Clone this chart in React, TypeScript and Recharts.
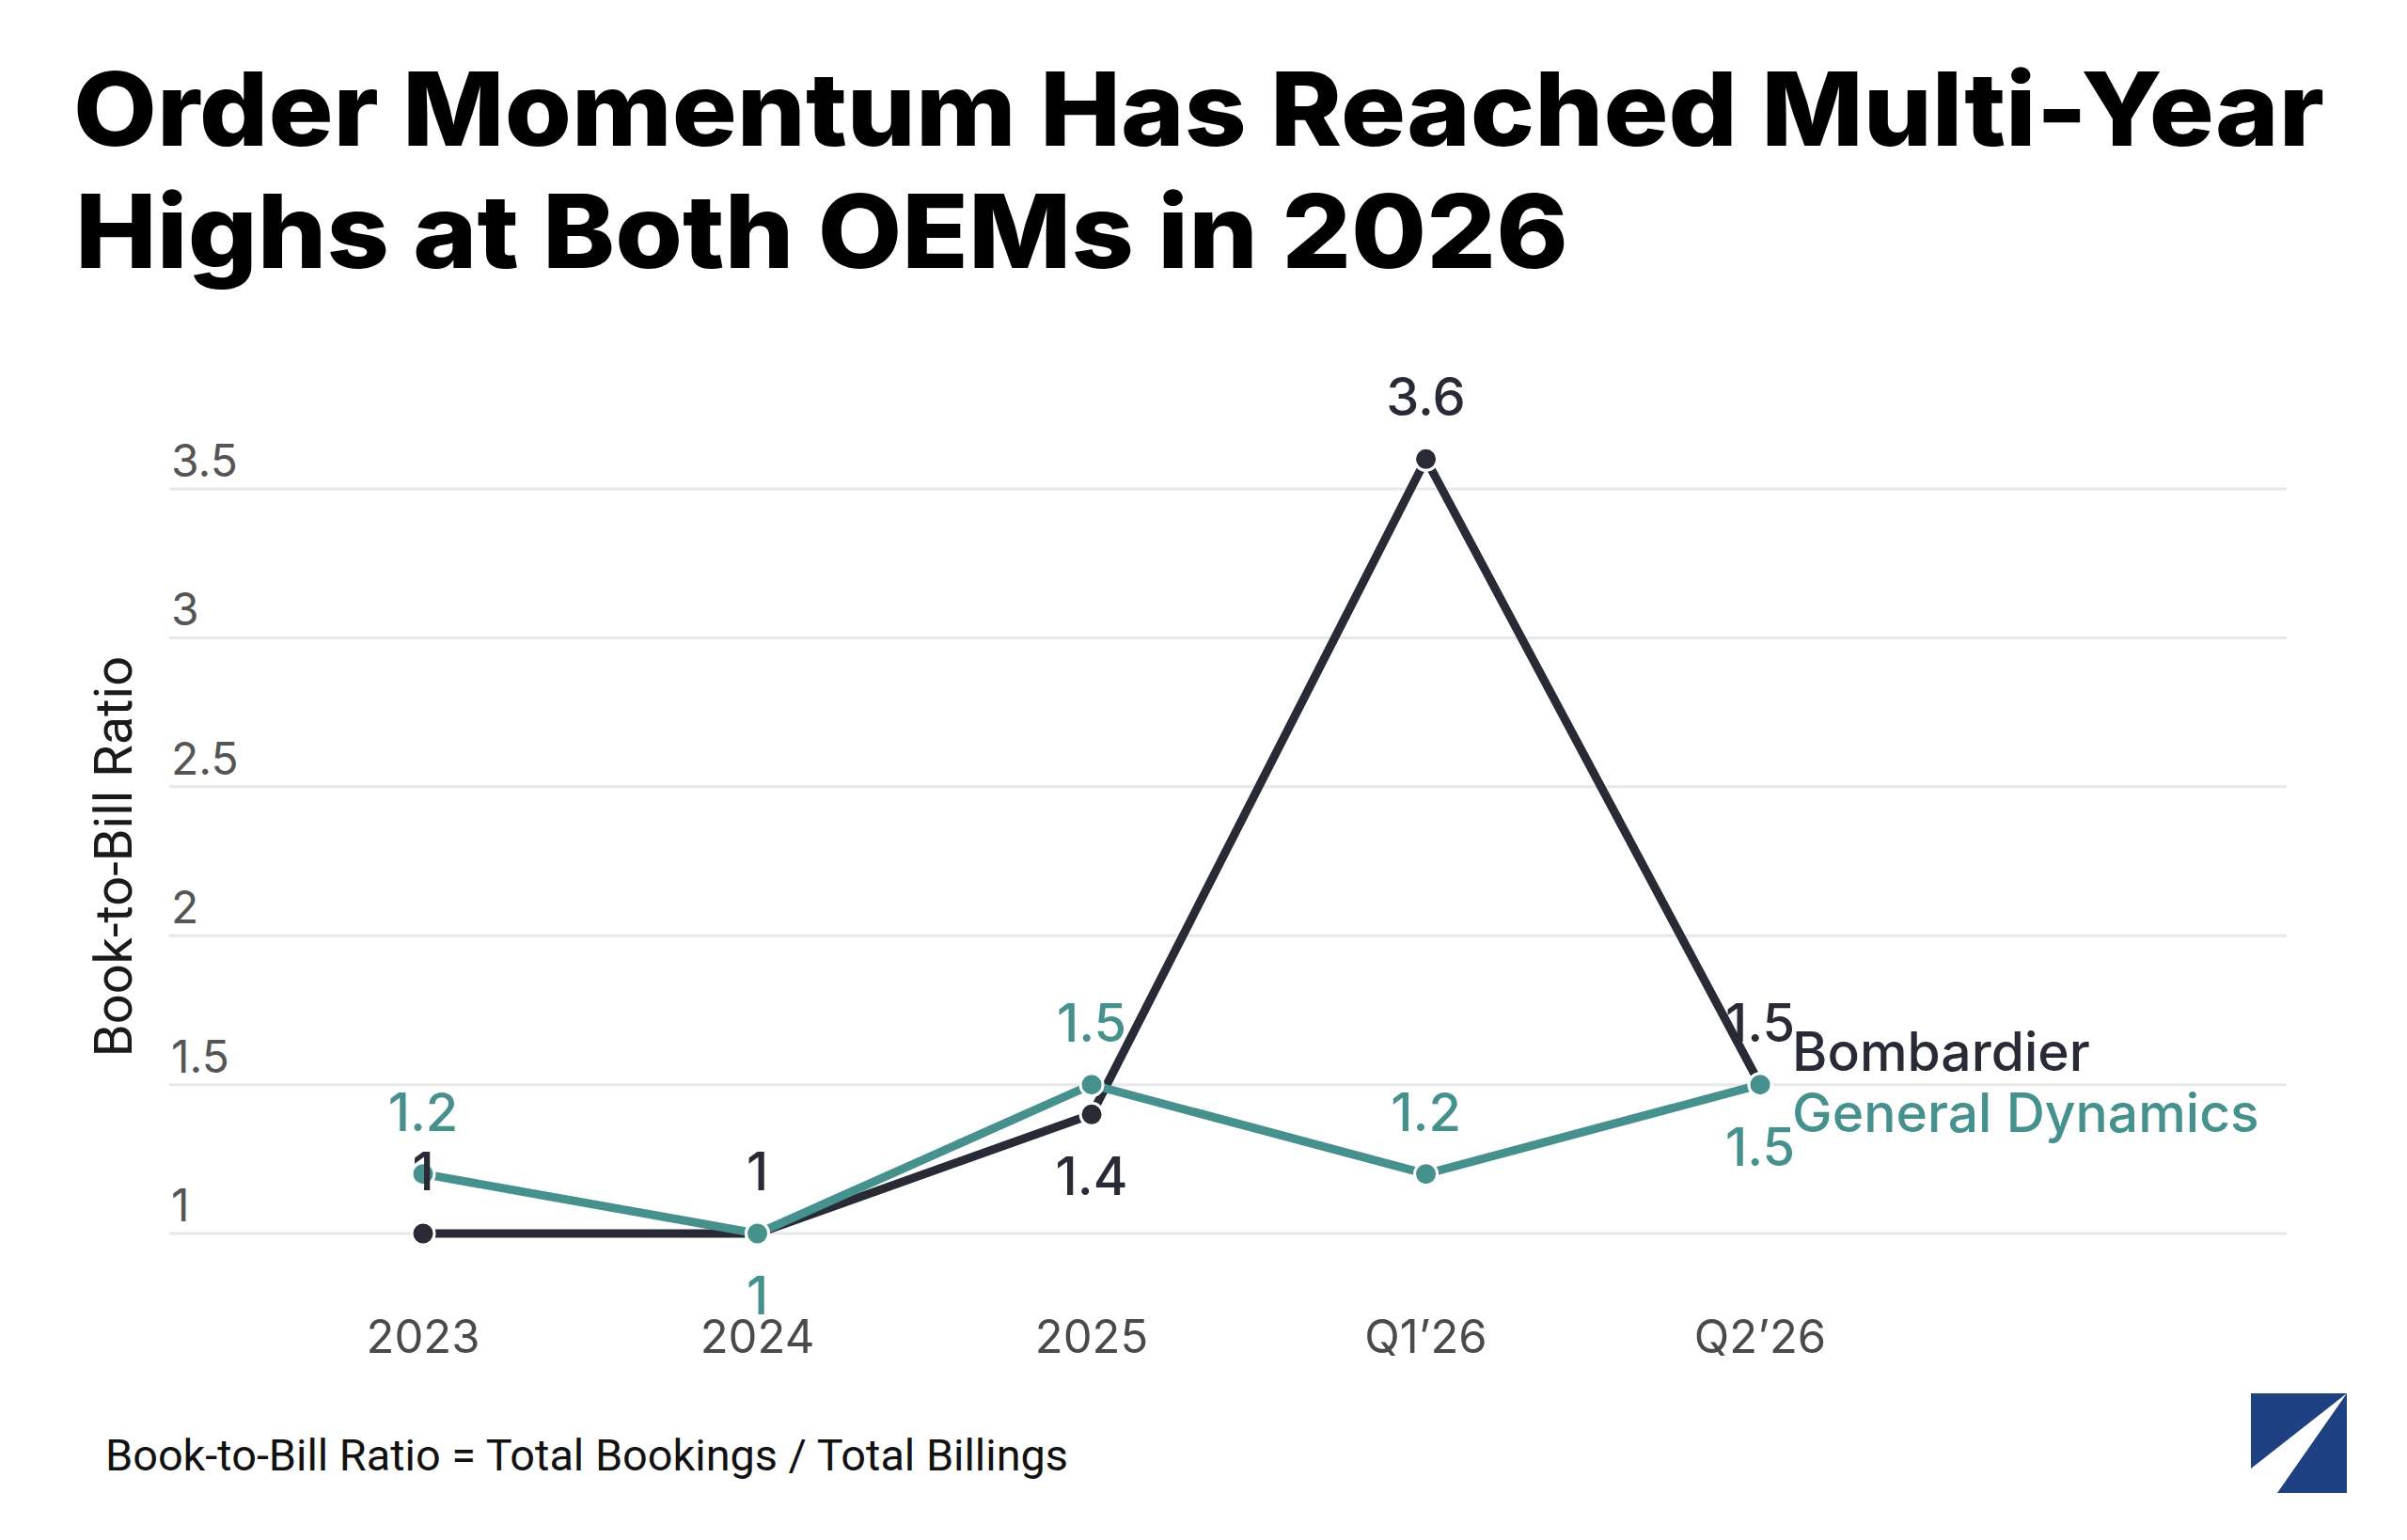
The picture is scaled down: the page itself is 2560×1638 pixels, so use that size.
import { LineChart, Line, XAxis, YAxis, CartesianGrid, LabelList } from "recharts";

const periods = ["2023", "2024", "2025", "Q1’26", "Q2’26"];
const bombardier = [1, 1, 1.4, 3.6, 1.5];
const generalDynamics = [1.2, 1, 1.5, 1.2, 1.5];
const yTicks = [1, 1.5, 2, 2.5, 3, 3.5];
const yDomain = [0.8, 3.8];

// where each value label sits relative to its point
const bombardierLabelSide = ["top", "top", "bottom", "top", "top"];
const gdLabelSide = ["top", "bottom", "top", "top", "bottom"];

const DARK = "#282a36";
const TEAL = "#46918e";
const W = 2560;
const H = 1638;

const rows = periods.map((period, i) => ({
  idx: i,
  period,
  bombardier: bombardier[i],
  gd: generalDynamics[i],
}));

function XTick({ x, y, payload }: any) {
  return (
    <text x={Number(x)} y={Number(y) + 64} textAnchor="middle" fontFamily="Inter" fontSize={49} fill="#4a4a4a">
      {periods[payload.value]}
    </text>
  );
}

function YTick({ x, y, payload }: any) {
  return (
    <text x={Number(x) + 2} y={Number(y) - 13} textAnchor="start" fontFamily="Inter" fontSize={48} fill="#555">
      {payload.value}
    </text>
  );
}

function gridRows({ yAxis, offset }: any) {
  if (yAxis && typeof yAxis.scale === "function") return yTicks.map((t) => yAxis.scale(t));
  const [lo, hi] = yDomain;
  return yTicks.map((t) => offset.top + (offset.height * (hi - t)) / (hi - lo));
}

function pointLabel(color: string, sides: string[], name: string, nameDy: number) {
  return (props: any) => {
    const x = props.x ?? props.viewBox?.x;
    const y = props.y ?? props.viewBox?.y;
    const idx = props.index;
    const dy = sides[idx] === "top" ? -46 : 86;
    return (
      <g>
        <text x={x} y={y + dy} textAnchor="middle" fontFamily="Inter" fontWeight={500} fontSize={56} fill={color}>
          {props.value}
        </text>
        {idx === periods.length - 1 && (
          <text x={x + 34} y={y + nameDy} textAnchor="start" fontFamily="Inter" fontWeight={500} fontSize={57} fill={color}>
            {name}
          </text>
        )}
      </g>
    );
  };
}

export default function App() {
  return (
    <div style={{ position: "fixed", left: 0, top: 0, width: W, height: H, background: "#fff" }}>
      <LineChart
        width={W}
        height={H}
        data={rows}
        margin={{ top: 425, right: 128, bottom: 261.6, left: 179 }}
      >
        <CartesianGrid vertical={false} stroke="#e8e8e8" strokeWidth={3} horizontalCoordinatesGenerator={gridRows} />
        <XAxis
          type="number"
          dataKey="idx"
          domain={[-0.7595, 5.575]}
          ticks={[0, 1, 2, 3, 4]}
          interval={0}
          axisLine={false}
          tickLine={false}
          tickSize={0}
          tickMargin={0}
          height={1}
          tick={(p: any) => <XTick {...p} />}
        />
        <YAxis
          type="number"
          domain={yDomain}
          ticks={yTicks}
          interval={0}
          axisLine={false}
          tickLine={false}
          tickSize={0}
          tickMargin={0}
          width={1}
          tick={(p: any) => <YTick {...p} />}
        />
        <Line
          dataKey="bombardier"
          stroke={DARK}
          strokeWidth={9}
          dot={{ r: 12, fill: DARK, stroke: "#fff", strokeWidth: 3 }}
          activeDot={false}
          isAnimationActive={false}
        />
        <Line
          dataKey="gd"
          stroke={TEAL}
          strokeWidth={9}
          dot={{ r: 12, fill: TEAL, stroke: "#fff", strokeWidth: 3 }}
          activeDot={false}
          isAnimationActive={false}
        >
          <LabelList dataKey="gd" content={pointLabel(TEAL, gdLabelSide, "General Dynamics", 50)} />
        </Line>
        {/* second pass so the dark labels sit above the teal marks */}
        <Line
          dataKey="bombardier"
          stroke="none"
          dot={false}
          activeDot={false}
          isAnimationActive={false}
        >
          <LabelList dataKey="bombardier" content={pointLabel(DARK, bombardierLabelSide, "Bombardier", -15)} />
        </Line>
      </LineChart>

      <svg width={W} height={H} style={{ position: "absolute", left: 0, top: 0, pointerEvents: "none" }}>
        <text x={78} y={155} fontFamily="Inter" fontWeight={800} fontSize={108} fill="#000" textLength={2394} lengthAdjust="spacingAndGlyphs">
          Order Momentum Has Reached Multi-Year
        </text>
        <text x={80} y={285} fontFamily="Inter" fontWeight={800} fontSize={108} fill="#000" textLength={1588} lengthAdjust="spacingAndGlyphs">
          Highs at Both OEMs in 2026
        </text>
        <text
          x={140}
          y={911}
          transform="rotate(-90 140 911)"
          textAnchor="middle"
          fontFamily="Roboto"
          fontSize={56}
          fill="#1a1a1a"
        >
          Book-to-Bill Ratio
        </text>
        <text
          x={112}
          y={1564}
          fontFamily="'Liberation Sans Narrow', Roboto"
          fontSize={46}
          fill="#111"
          textLength={1024}
          lengthAdjust="spacingAndGlyphs"
        >
          Book-to-Bill Ratio = Total Bookings / Total Billings
        </text>
        <g transform="translate(2394 1482)">
          <rect width={102} height={106} fill="#1f4181" />
          <polygon points="0,80 102,0 28,106 0,106" fill="#fff" />
        </g>
      </svg>
    </div>
  );
}
